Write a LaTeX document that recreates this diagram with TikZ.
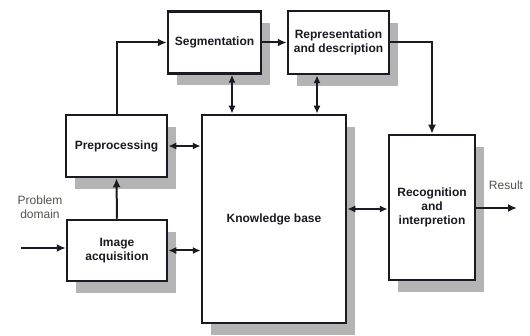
\documentclass[tikz,border=0pt]{standalone}
\usepackage{fontspec}
\setmainfont{Liberation Sans}
\usetikzlibrary{arrows.meta, shadows, calc}
\definecolor{tinta}{HTML}{1A1A22}
\definecolor{sombragris}{HTML}{B4B4B4}
\definecolor{rotulo}{HTML}{55504C}
\tikzset{
  bloque/.style={rectangle, draw=tinta, fill=white, line width=2.5pt, text=tinta,
                 font=\fontsize{12}{14}\selectfont\bfseries, align=center, inner sep=2pt,
                 drop shadow={shadow xshift=9pt, shadow yshift=-12pt, fill=sombragris, opacity=1}},
  flecha/.style={line width=2pt, -{Latex[length=9pt, width=8pt]}, color=tinta},
  flechados/.style={line width=2pt, {Latex[length=8pt, width=7pt]}-{Latex[length=8pt, width=7pt]}, color=tinta},
  etiqueta/.style={font=\fontsize{12}{14}\selectfont, text=rotulo, align=center}
}
\begin{document}
\begin{tikzpicture}[x=1pt, y=-1pt]
  \useasboundingbox (0,0) rectangle (530,336);
  \node (seg) [bloque, minimum width=93pt, minimum height=62pt] at (214.5,42.5) {Segmentation};
  \node (rep) [bloque, minimum width=101pt, minimum height=63pt] at (338.5,42.5) {Representation\\and description};
  \node (pre) [bloque, minimum width=101pt, minimum height=62pt] at (116.5,146) {Preprocessing};
  \node (acq) [bloque, minimum width=100pt, minimum height=61pt] at (117,250.5) {Image\\acquisition};
  \node (kb) [bloque, minimum width=144pt, minimum height=208pt] at (274,219) {Knowledge base};
  \node (rec) [bloque, minimum width=86pt, minimum height=145pt] at (432,207.5) {Recognition\\and\\interpretion};
  \node (dom) [etiqueta] at (40,207) {Problem\\domain};
  \node (res) [etiqueta] at (506,185) {Result};
  \coordinate (entrada) at (21,248);
  \coordinate (salida) at (517,208);
  \draw [flecha] (pre.north) |- (seg.west);
  \draw [flecha] (seg.east) -- (rep.west);
  \draw [flecha] (rep.east) -| (rec.north);
  \draw [flecha] (acq.north) -- (pre.south);
  \draw [flecha] (entrada) -- (entrada -| acq.west);
  \draw [flechados] ([xshift=17.5pt]seg.south) -- ([xshift=17.5pt]seg.south |- kb.north);
  \draw [flechados] ([xshift=-21.5pt]rep.south) -- ([xshift=-21.5pt]rep.south |- kb.north);
  \draw [flechados] (pre.east) -- (pre.east -| kb.west);
  \draw [flechados] (acq.east) -- (acq.east -| kb.west);
  \draw [flechados] ([yshift=10pt]kb.east) -- ([yshift=10pt]kb.east -| rec.west);
  \draw [flecha] (rec.east |- salida) -- (salida);
\end{tikzpicture}
\end{document}
